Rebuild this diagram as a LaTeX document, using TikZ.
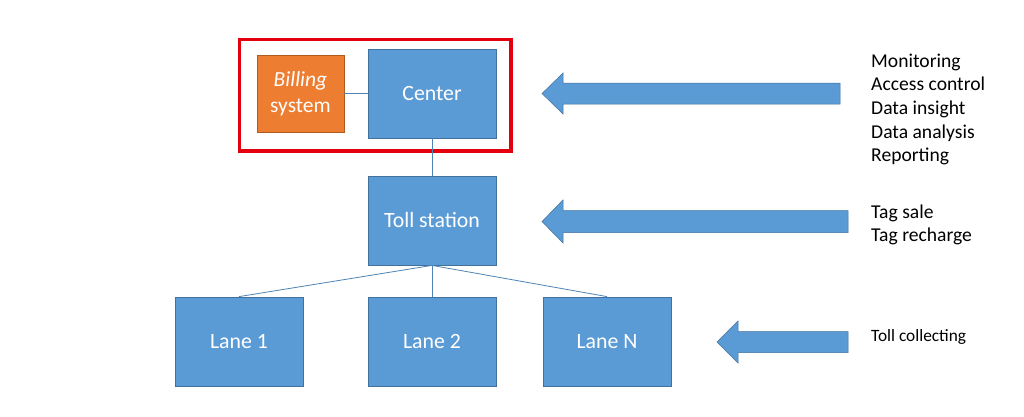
\documentclass[tikz,border=0pt]{standalone}
\usepackage{fontspec}
\setmainfont{Carlito}
\definecolor{boxblue}{HTML}{5B9BD5}
\definecolor{boxblueline}{HTML}{41719C}
\definecolor{boxorange}{HTML}{ED7D31}
\definecolor{boxorangeline}{HTML}{AE5A21}
\definecolor{framered}{HTML}{E3000F}
\begin{document}
\begin{tikzpicture}[x=1pt,y=-1pt,
  bluebox/.style={draw=boxblueline, fill=boxblue, line width=0.8pt, minimum width=128pt, minimum height=89pt, inner sep=0pt, text=white, font=\fontsize{21.8}{25}\selectfont},
  orangebox/.style={draw=boxorangeline, fill=boxorange, line width=0.8pt, minimum width=87pt, minimum height=77pt, inner sep=0pt, text=white, align=center, font=\fontsize{21.5}{26}\selectfont},
  link/.style={draw=boxblue!85!black, line width=0.8pt},
  blockarrow/.style={fill=boxblue, draw=boxblueline, line width=0.5pt},
  listtext/.style={anchor=base west, inner sep=0pt, font=\fontsize{19.6}{22}\selectfont},
  smalltext/.style={anchor=base west, inner sep=0pt, font=\fontsize{17.3}{20}\selectfont}
]
\useasboundingbox (0,0) rectangle (1024,416);
\fill[white] (0,0) rectangle (1024,416);

% red frame
\draw[framered, line width=3.5pt] (239.5,39.5) rectangle (511,151);

% boxes
\node[orangebox] (billing) at (300.5,93.5) {\textit{Billing}\\system};
\node[bluebox] (center) at (432,93.5) {Center};
\node[bluebox] (toll) at (432,220.5) {Toll station};
\node[bluebox] (lane1) at (239,341.5) {Lane 1};
\node[bluebox] (lane2) at (432,341.5) {Lane 2};
\node[bluebox] (laneN) at (607,341.5) {Lane N};

% connectors
\draw[link] (billing.east) -- (center.west);
\draw[link] (center.south) -- (toll.north);
\draw[link] (toll.south) -- (lane1.north);
\draw[link] (toll.south) -- (lane2.north);
\draw[link] (toll.south) -- (laneN.north);

% block arrows
\draw[blockarrow] (542,93.5) -- (563,73) -- (563,83) -- (840,83) -- (840,104) -- (563,104) -- (563,114) -- cycle;
\draw[blockarrow] (542,221.5) -- (563,200) -- (563,210.5) -- (848,210.5) -- (848,232.5) -- (563,232.5) -- (563,243) -- cycle;
\draw[blockarrow] (717,342) -- (738,321) -- (738,331.5) -- (848,331.5) -- (848,352.5) -- (738,352.5) -- (738,363) -- cycle;

% text lists
\node[listtext] (t1) at (871,67) {Monitoring};
\node[listtext] (t2) at (871,90.7) {Access control};
\node[listtext] (t3) at (871,114.4) {Data insight};
\node[listtext] (t4) at (871,138.1) {Data analysis};
\node[listtext] (t5) at (871,161.8) {Reporting};
\node[listtext] (t6) at (871,218) {Tag sale};
\node[listtext] (t7) at (871,241.7) {Tag recharge};
\node[smalltext] (t8) at (871,341) {Toll collecting};
\end{tikzpicture}
\end{document}
